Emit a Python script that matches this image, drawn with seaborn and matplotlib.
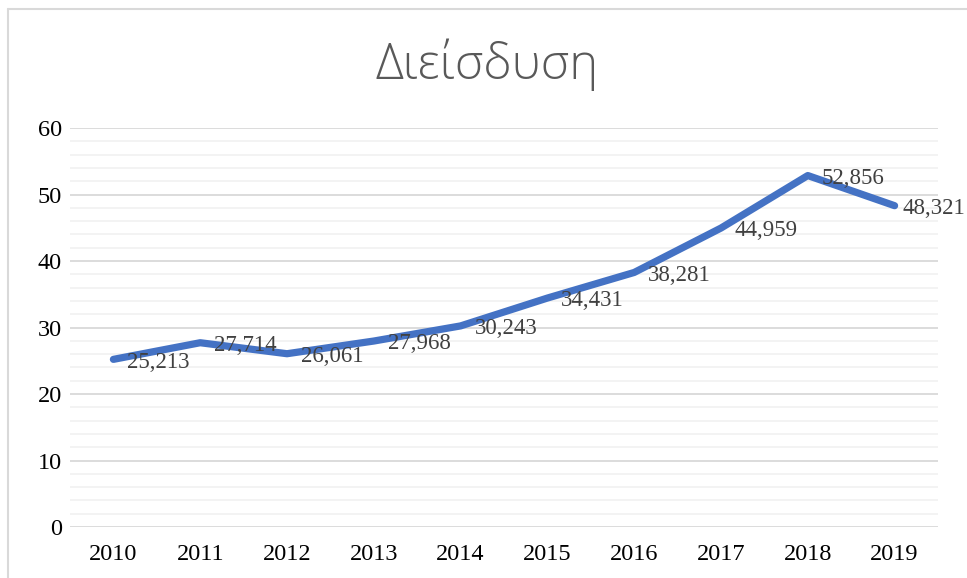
import matplotlib
matplotlib.use("Agg")
import matplotlib.pyplot as plt
import seaborn as sns
import pandas as pd
from matplotlib.lines import Line2D

years = ['2010', '2011', '2012', '2013', '2014', '2015', '2016', '2017', '2018', '2019']
values = [25.213, 27.714, 26.061, 27.968, 30.243, 34.431, 38.281, 44.959, 52.856, 48.321]
labels = ['25,213', '27,714', '26,061', '27,968', '30,243', '34,431', '38,281', '44,959', '52,856', '48,321']
title = 'Διείσδυση'

df = pd.DataFrame({'year': years, 'value': values})

sns.set_theme(style='white')
plt.rcParams['font.family'] = ['Liberation Serif', 'DejaVu Serif']

fig = plt.figure(figsize=(9.67, 5.78), dpi=100)
ax = fig.add_axes([0.0724, 0.0882, 0.8976, 0.6903])

sns.lineplot(data=df, x='year', y='value', ax=ax, color='#4472C4', linewidth=5.2,
             sort=False, solid_capstyle='round', solid_joinstyle='round')

ax.set_xlim(-0.5, len(years) - 0.5)
ax.set_ylim(0, 60)
ax.set_yticks(range(0, 61, 10))
ax.set_yticks(range(0, 61, 2), minor=True)
ax.grid(True, which='major', axis='y', color='#D9D9D9', linewidth=1.3)
ax.grid(True, which='minor', axis='y', color='#F2F2F2', linewidth=1.3)
ax.set_axisbelow(True)
for s in ax.spines.values():
    s.set_visible(False)
ax.tick_params(axis='both', which='both', length=0, labelsize=17.5, labelcolor='#000000')
ax.tick_params(axis='y', pad=6)
ax.tick_params(axis='x', pad=12)
ax.set_xlabel('')
ax.set_ylabel('')

# labels sit right of each point; the last one is pulled in to stay inside the chart
for i, (v, lab) in enumerate(zip(values, labels)):
    dx = 10 if i < len(values) - 1 else 5.5
    ax.annotate(lab, (i, v), xytext=(dx, -2), textcoords='offset points',
                ha='left', va='center', fontsize=16.5, color='#404040')

fig.text(0.504, 0.888, title, ha='center', va='center', fontsize=35,
         color='#595959', family=['Open Sans', 'Noto Sans', 'DejaVu Sans'], fontweight='light')

# chart border
fig.add_artist(Line2D([8 / 967, 8 / 967], [0, 1 - 9 / 578], transform=fig.transFigure,
                      color='#D9D9D9', linewidth=1.5))
fig.add_artist(Line2D([8 / 967, 1], [1 - 9 / 578, 1 - 9 / 578], transform=fig.transFigure,
                      color='#D9D9D9', linewidth=1.5))

fig.savefig('out.png', dpi=100, facecolor='white')
